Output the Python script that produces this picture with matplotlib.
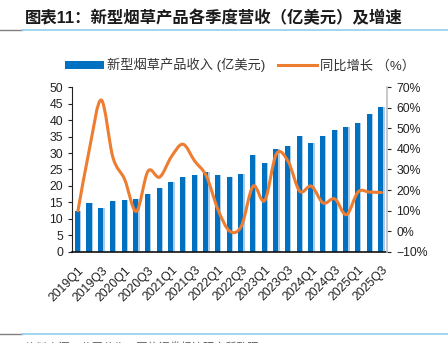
import matplotlib
matplotlib.use("Agg")
import matplotlib.pyplot as plt
import numpy as np
from matplotlib.path import Path
from matplotlib.patches import PathPatch, Patch
from matplotlib.lines import Line2D
from matplotlib.ticker import PercentFormatter

plt.rcParams['font.family'] = ['Liberation Sans', 'Noto Sans CJK SC']

quarters = [f"{y}Q{q}" for y in range(2019, 2026) for q in range(1, 5)][:27]
revenue = [12.4, 14.7, 13.4, 15.3, 15.6, 16.1, 17.4, 19.3, 21.1, 22.6,
           23.2, 24.1, 23.4, 22.6, 23.5, 29.4, 27.1, 31.2, 32.1, 35.3,
           33.0, 35.3, 37.0, 38.0, 39.0, 42.0, 44.0]
growth = [0.099, 0.405, 0.638, 0.358, 0.252, 0.096, 0.292, 0.263, 0.362, 0.423,
          0.341, 0.268, 0.104, 0.000, 0.025, 0.219, 0.149, 0.376, 0.340, 0.194,
          0.219, 0.137, 0.157, 0.080, 0.191, 0.190, 0.188]

BLUE = '#0070C0'
LIGHT = '#A9CDEB'
ORANGE = '#ED7D31'

fig = plt.figure(figsize=(4.48, 3.43), dpi=100)
ax = fig.add_axes([0.161, 0.2662, 0.7035, 0.4793])
ax2 = ax.twinx()

x = np.arange(len(revenue))
ax.bar(x - 0.27, revenue, width=0.55, align='edge', color=LIGHT, linewidth=0)
ax.bar(x - 0.27, revenue, width=0.44, align='edge', color=BLUE, linewidth=0)
ax.set_xlim(-0.5, len(revenue) - 0.5)
ax.set_ylim(0, 50)
ax.set_yticks(range(0, 51, 5))

# smooth line like the office chart (catmull-rom as bezier)
pts = np.column_stack([x, growth])
ext = np.vstack([pts[0], pts, pts[-1]])
verts = [tuple(pts[0])]
codes = [Path.MOVETO]
for i in range(len(pts) - 1):
    p0, p1, p2, p3 = ext[i], ext[i + 1], ext[i + 2], ext[i + 3]
    c1 = p1 + (p2 - p0) / 6
    c2 = p2 - (p3 - p1) / 6
    verts += [tuple(c1), tuple(c2), tuple(p2)]
    codes += [Path.CURVE4] * 3
ax2.add_patch(PathPatch(Path(verts, codes), facecolor='none', edgecolor=ORANGE,
                        lw=2.2, capstyle='round', joinstyle='round'))
ax2.set_ylim(-0.1, 0.7)
ax2.set_yticks(np.arange(-0.1, 0.71, 0.1))
ax2.yaxis.set_major_formatter(PercentFormatter(1.0, decimals=0))

ax.set_xticks(x[::2])
ax.set_xticklabels(quarters[::2], rotation=45, ha='right', rotation_mode='anchor')
ax.tick_params(axis='x', length=0, pad=9, labelsize=8.8, colors='#222222')
ax.tick_params(axis='y', length=3, width=0.8, labelsize=8.8, colors='#222222', direction='out')
ax2.tick_params(axis='y', length=3, width=0.8, labelsize=8.8, colors='#222222', direction='out')
for t in ax2.yaxis.get_ticklines():
    t.set_color('#BFBFBF')

for a in (ax, ax2):
    a.spines['top'].set_visible(False)
ax.spines['right'].set_visible(False)
ax2.spines['left'].set_visible(False)
ax2.spines['bottom'].set_visible(False)
ax2.spines['right'].set_color('#BFBFBF')
ax2.spines['right'].set_linewidth(1.2)
ax.spines['left'].set_color('#222222')
ax.spines['bottom'].set_color('#111111')
ax.spines['bottom'].set_linewidth(1.2)

# title and rules
fig.text(25 / 448, 1 - 18 / 343, '图表11：新型烟草产品各季度营收（亿美元）及增速',
         fontsize=11.8, fontweight='bold', color='#1a1a1a', va='center', ha='left')
for yy in (30, 334):
    fig.add_artist(Line2D([0, 22 / 448], [1 - yy / 343] * 2, color='#808080', lw=1.0))
    fig.add_artist(Line2D([22 / 448, 1], [1 - yy / 343] * 2, color='#8FD0EE', lw=1.2))
fig.text(25 / 448, 1 - 341.5 / 343, '资料来源：公司公告，国信证券经济研究所整理',
         fontsize=8, color='#555555', va='top', ha='left')

handles = [Patch(facecolor=BLUE, edgecolor='none'),
           Line2D([], [], color=ORANGE, lw=2.2)]
fig.legend(handles, ['新型烟草产品收入 (亿美元)', '同比增长 （%）'],
           loc='center', bbox_to_anchor=(240 / 448, 1 - 65 / 343), ncol=2,
           frameon=False, fontsize=9.5, handlelength=3.0, handleheight=0.55,
           columnspacing=0.9, handletextpad=0.25, labelcolor='#333333')

fig.savefig('out.png', dpi=100)
